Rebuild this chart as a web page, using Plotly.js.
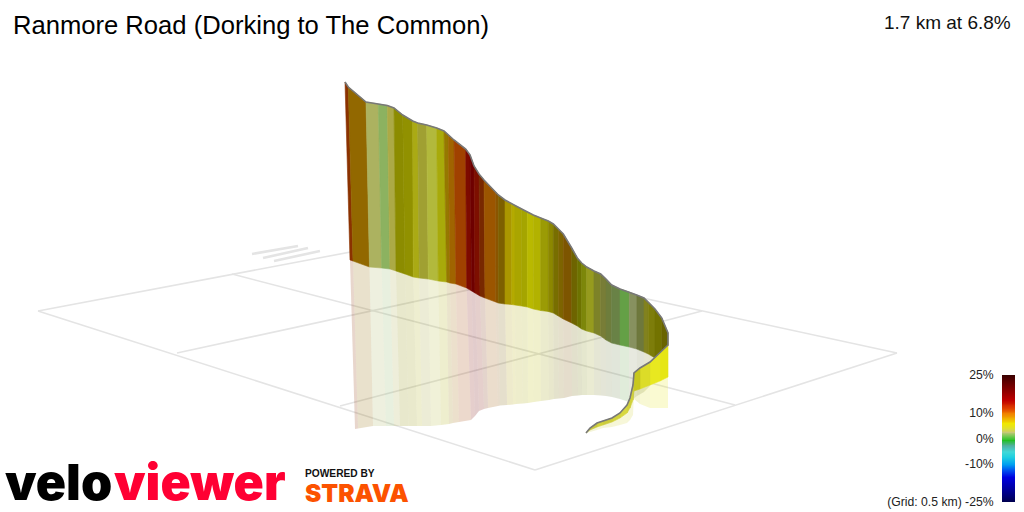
<!DOCTYPE html>
<html>
<head>
<meta charset="utf-8">
<script src="https://cdn.plot.ly/plotly-3.0.1.min.js"></script>
<style>html,body{margin:0;padding:0;background:#fff}#chart{width:1024px;height:512px}</style>
</head>
<body>
<div id="chart"></div>
<script>
// Projected profile of the climb: ridge, road level, and mirrored lower edge
const topX = [345,348.3,366,378.3,387.3,394,402.7,412.7,417.7,426.7,436.7,444,448.3,454,465.7,470,474,479,484,495.7,498.3,505,511.7,515,521.7,527.3,533.3,540.7,548.3,553.3,558.3,563.3,571.7,577.3,581.7,586.7,594,600.7,606,611.7,620,629.3,636.7,644,648.3,655,661.7,668];
const topY = [82,87,102,104,105.5,108,115,121,123,125,128,131,135,140,149,155,166,174,180,192,195,200,204,205.5,209,212,215,218,221,224,229,234,248,258,263,267,271,274,279,285,289,292,295,298,302,309,318,333];
const baseX = [350,353,369.5,381.7,390,396,405,413.3,419.3,428.3,438.3,446.7,450,456,466.7,471.7,475,480,485,495.7,498.3,505,511.7,515,521.7,527.3,533.3,540.7,548.3,553.3,558.3,563.3,571.7,577.3,581.7,586.7,594,600.7,606,611.7,620,629.3,636.7,644,648.3,655,661.7,668];
const baseY = [260,261,267,268,269,271,274,277,278,279,281,282,283,284,288,291,293,296,298,302,303,304,304.5,305,306,307,309,310.5,311.5,313,316,319,323,326,329,331,333,336,340,343,345,347,349,352,354,358,352,346];
const lowX = [355,358,373,386,394,400,408.5,417,422,431,441,449,453,459,471,475,479,484,488,498,500,507,513,516,523,528,534,541,549,554,559,564,572,578,582,587,594,601,606,612,620,629,637,644,648,655,662,668];
const lowY = [429,428.5,426,426,426,426,426,426,426,426,425,424,423,422,420,416,411,409,408,406,405.5,405,404.5,404,403.5,403,402,401,400,399,398.5,398,396,395.5,395,395,395,395.5,396,397,399,402,396,392,388,380,365,350];
const bandColors = ['#8b3200','#926800','#acb260','#8cb260','#acaa46','#8c8c00','#919100','#aaaa14','#a0a032','#b2b93c','#a8aa0a','#967800','#a06400','#a04100','#7d0a00','#6e0000','#7d0f00','#782800','#9b5500','#8c5500','#7d5f00','#aa9600','#b4aa00','#aaa500','#a5a500','#b9b900','#b2b200','#9b9b05','#8c8700','#786e00','#7d6400','#7d5500','#6e6400','#6e7300','#7d870a','#969b1e','#7d8228','#787d37','#6e7d3c','#698246','#64a046','#87915f','#6e783c','#82821e','#7d7d0a','#737300','#696400'];

// The last stretch of the climb, nearest to the viewer
const nearX = [668,660,650,640,634,633,630,627,620,612,603,597,590,586];
const nearTopY = [345,353,362,368,373,385,398,405,413,418,421,423,428,433];
const nearBaseY = [377,381,385,389,391,400,408,413,418,422,425,427,430,433];
const nearLowY = [408,408,408,404,399,415,420,423,425,427,428,430,432,433];
const nearColors = ['#e6e614','#e8e820','#dcdc28','#c8c81e','#c8c83c','#d2d23c','#d2d23c','#d8d840','#d2d23c','#cccc3c','#d2d23c','#c8c83c','#c8c83c'];

// Ground grid lines, each a pair of projected end points
const gridX = [[38,535],[535,897],[38,393],[393,897],[232,735],[177,537],[340,702],[252,298],[263,308],[274,320]];
const gridY = [[311,470],[470,353],[311,244],[244,353],[274,405],[353,275],[406,311],[254,246],[258,248],[261,251]];
const gridW = [1.6,1.6,1.6,1.6,1.6,1.6,1.6,2.6,2.6,2.6];

// Colour key
const gradeRows = [-25,-22.5,-20,-17.5,-15,-12.5,-10,-8,-6,-4,-2,-1,0,1,2,3,4,5,6,7,8,9,10,11,12,13,14,15,17.5,20,22.5,25];
const gradeTicks = [25,10,0,-10,-25];
const gradeLabels = ['25%','10%','0%','-10%','(Grid: 0.5 km) -25%'];
const gradeScale = [[-25,'#00004a'],[-20,'#00009c'],[-15,'#0000e0'],[-12.5,'#0050f0'],[-10,'#00a0f0'],[-7,'#20d0e0'],[-5,'#40d8d8'],[-2.5,'#50b0a0'],[-0.5,'#20c020'],[1,'#70c850'],[2.5,'#c8c878'],[4,'#e0e030'],[6,'#f0e800'],[8,'#f0b000'],[10,'#f08000'],[12,'#e04000'],[15,'#c00000'],[20,'#800000'],[25,'#3a0000']];

const titleText = 'Ranmore Road (Dorking to The Common)';
const summaryText = '1.7 km at 6.8%';

const traces = [];
function poly(xs, ys, color, opacity, seam) {
  traces.push({type:'scatter', mode:'lines', x:[...xs, xs[0]], y:[...ys, ys[0]], fill:'toself',
    fillcolor:color, opacity:opacity, line:{width:seam?0.6:0, color:color}, hoverinfo:'skip', showlegend:false, xaxis:'x', yaxis:'y'});
}
// grid
gridX.forEach((xs,i)=>traces.push({type:'scatter',mode:'lines',x:xs,y:gridY[i],line:{color:'#e4e4e4',width:gridW[i]},hoverinfo:'skip',showlegend:false}));
// mirrored wall
bandColors.forEach((c,i)=>poly([baseX[i],baseX[i+1],lowX[i+1],lowX[i]],[baseY[i],baseY[i+1],lowY[i+1],lowY[i]],c,0.2,false));
nearColors.forEach((c,i)=>poly([nearX[i],nearX[i+1],nearX[i+1],nearX[i]],[nearBaseY[i],nearBaseY[i+1],nearLowY[i+1],nearLowY[i]],c,0.2,false));
// wall
bandColors.forEach((c,i)=>poly([topX[i],topX[i+1],baseX[i+1],baseX[i]],[topY[i],topY[i+1],baseY[i+1],baseY[i]],c,1,true));
nearColors.forEach((c,i)=>poly([nearX[i],nearX[i+1],nearX[i+1],nearX[i]],[nearTopY[i],nearTopY[i+1],nearBaseY[i+1],nearBaseY[i]],c,1,true));
// ridge outline
traces.push({type:'scatter',mode:'lines',x:[...topX,...nearX],y:[...topY,...nearTopY],line:{color:'#787878',width:1.6},hoverinfo:'skip',showlegend:false});
// colour key
traces.push({type:'heatmap',x:[0,1],y:gradeRows,z:gradeRows.map(g=>[g,g]),zmin:-25,zmax:25,zsmooth:'best',
  colorscale:gradeScale.map(s=>[(s[0]+25)/50,s[1]]),showscale:false,hoverinfo:'skip',xaxis:'x2',yaxis:'y2'});

const W=1024,H=512;
const layout = {
  width:W,height:H,margin:{l:0,r:0,t:0,b:0},paper_bgcolor:'#fff',plot_bgcolor:'rgba(0,0,0,0)',showlegend:false,
  title:{text:titleText,x:13/W,xanchor:'left',y:1-25/H,yanchor:'middle',font:{family:'Liberation Sans',size:25.6,color:'#000'}},
  xaxis:{range:[0,W],visible:false,fixedrange:true,domain:[0,1]},
  yaxis:{range:[H,0],visible:false,fixedrange:true,domain:[0,1]},
  xaxis2:{domain:[1002/W,1015/W],anchor:'y2',range:[0,1],visible:false,fixedrange:true},
  yaxis2:{domain:[(H-502)/H,(H-375)/H],anchor:'x2',range:[-25,25],side:'left',tickmode:'array',tickvals:gradeTicks,ticktext:gradeLabels,
    ticks:'outside',ticklen:5,tickcolor:'rgba(0,0,0,0)',showgrid:false,zeroline:false,showline:false,fixedrange:true,
    tickfont:{family:'Liberation Sans',size:12.2,color:'#222'}},
  annotations:[
    {text:summaryText,xref:'paper',yref:'paper',x:1013/W,y:1-22/H,xanchor:'right',yanchor:'middle',showarrow:false,font:{family:'Liberation Sans',size:19,color:'#111'}},
    {text:'velo',xref:'paper',yref:'paper',x:3/W,y:1-482/H,xanchor:'left',yanchor:'middle',showarrow:false,font:{family:'Inter',size:50,weight:900,color:'#000'}},
    {text:'viewer',xref:'paper',yref:'paper',x:112/W,y:1-482/H,xanchor:'left',yanchor:'middle',showarrow:false,font:{family:'Inter',size:50,weight:900,color:'#ff0033'}},
    {text:'POWERED BY',xref:'paper',yref:'paper',x:303/W,y:1-473/H,xanchor:'left',yanchor:'middle',showarrow:false,font:{family:'Liberation Sans',size:10.2,weight:700,color:'#111'}},
    {text:'STRAVA',xref:'paper',yref:'paper',x:303/W,y:1-493/H,xanchor:'left',yanchor:'middle',showarrow:false,font:{family:'Inter',size:24.5,weight:900,color:'#fc5200'}}
  ]
};
Plotly.newPlot('chart',traces,layout,{staticPlot:true,displayModeBar:false});
</script>
</body>
</html>
